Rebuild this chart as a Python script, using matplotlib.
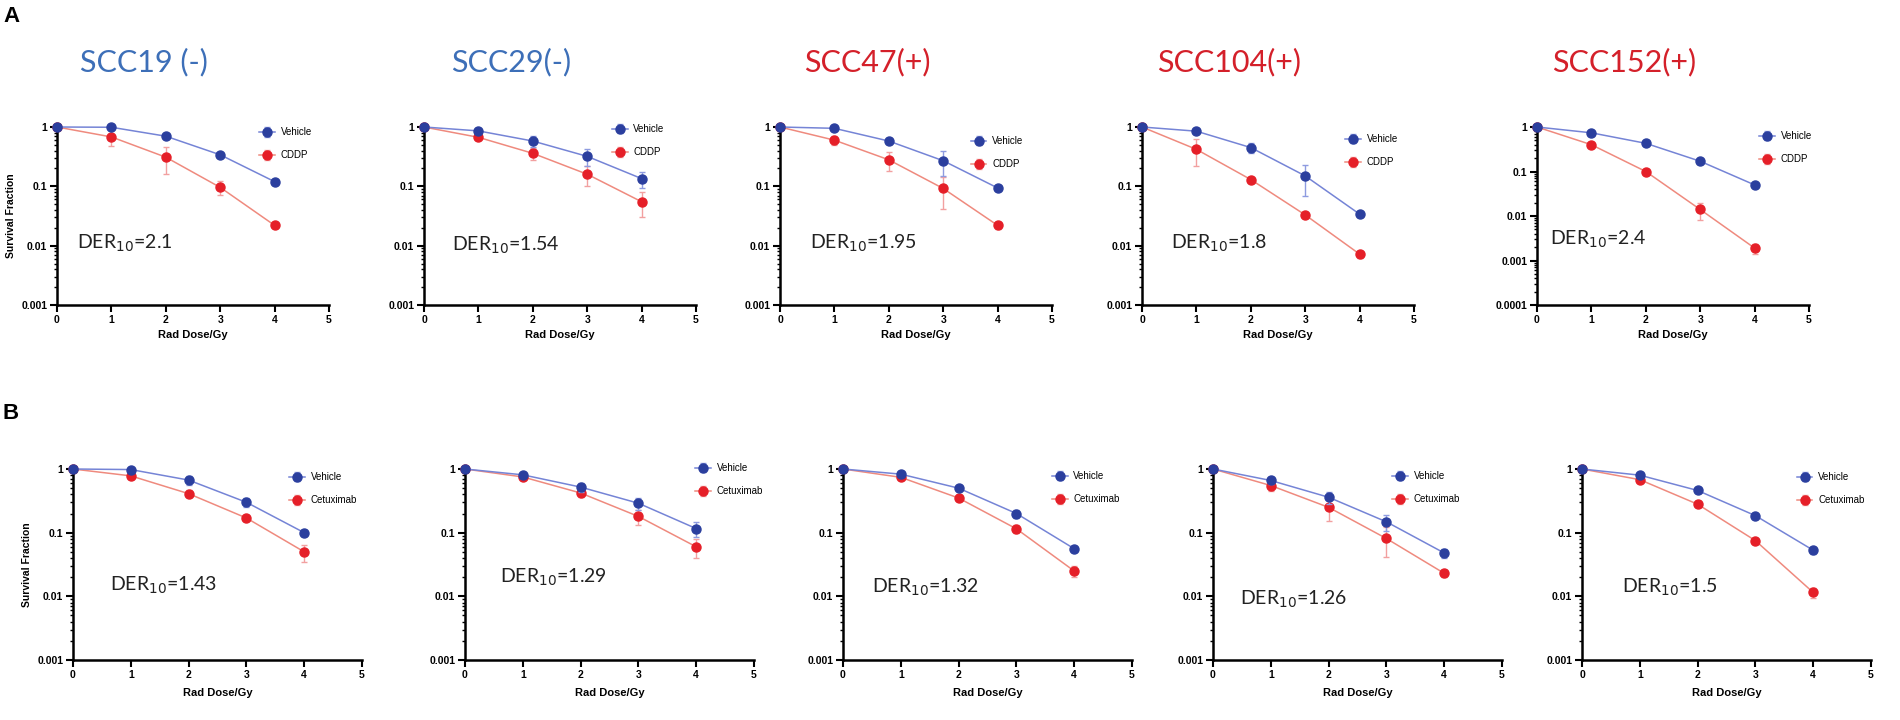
import math
import matplotlib
matplotlib.use("Agg")
import matplotlib.pyplot as plt
from matplotlib.ticker import LogLocator, NullFormatter

# ---- data (survival fraction vs radiation dose) ----
dose = [0, 1, 2, 3, 4]

lines_a = ["SCC19 (-)", "SCC29(-)", "SCC47(+)", "SCC104(+)", "SCC152(+)"]
hpv_neg = [True, True, False, False, False]

veh_a = [
    [1, 0.99, 0.70, 0.34, 0.12],
    [1, 0.86, 0.58, 0.32, 0.135],
    [1, 0.95, 0.58, 0.27, 0.094],
    [1, 0.85, 0.45, 0.15, 0.034],
    [1, 0.74, 0.43, 0.17, 0.05],
]
veh_a_err = [
    [0, 0.05, 0.06, 0.03, 0.008],
    [0, 0.10, 0.12, 0.10, 0.04],
    [0, 0.05, 0.06, 0.12, 0.008],
    [0, 0.05, 0.08, 0.08, 0.003],
    [0, 0.05, 0.03, 0.02, 0.004],
]
cddp = [
    [1, 0.68, 0.31, 0.096, 0.022],
    [1, 0.67, 0.36, 0.16, 0.055],
    [1, 0.60, 0.28, 0.092, 0.022],
    [1, 0.42, 0.13, 0.033, 0.0072],
    [1, 0.40, 0.10, 0.014, 0.0019],
]
cddp_err = [
    [0, 0.2, 0.15, 0.025, 0.002],
    [0, 0.06, 0.08, 0.06, 0.025],
    [0, 0.1, 0.1, 0.05, 0.003],
    [0, 0.2, 0.01, 0.004, 0.001],
    [0, 0.05, 0.01, 0.006, 0.0005],
]
der_a = ["2.1", "1.54", "1.95", "1.8", "2.4"]

veh_b = [
    [1, 0.98, 0.67, 0.30, 0.10],
    [1, 0.81, 0.52, 0.29, 0.116],
    [1, 0.83, 0.50, 0.20, 0.056],
    [1, 0.66, 0.36, 0.148, 0.048],
    [1, 0.80, 0.46, 0.185, 0.053],
]
veh_b_err = [
    [0, 0.05, 0.1, 0.05, 0.01],
    [0, 0.05, 0.08, 0.06, 0.03],
    [0, 0.05, 0.05, 0.03, 0.006],
    [0, 0.08, 0.08, 0.04, 0.008],
    [0, 0.05, 0.04, 0.02, 0.006],
]
cetux = [
    [1, 0.78, 0.41, 0.17, 0.05],
    [1, 0.75, 0.42, 0.18, 0.06],
    [1, 0.74, 0.35, 0.115, 0.025],
    [1, 0.55, 0.25, 0.081, 0.023],
    [1, 0.68, 0.28, 0.075, 0.0115],
]
cetux_err = [
    [0, 0.08, 0.05, 0.02, 0.015],
    [0, 0.05, 0.06, 0.05, 0.02],
    [0, 0.05, 0.04, 0.015, 0.005],
    [0, 0.1, 0.1, 0.04, 0.003],
    [0, 0.05, 0.03, 0.008, 0.002],
]
der_b = ["1.43", "1.29", "1.32", "1.26", "1.5"]

# ---- layout (pixels on the 1900x720 canvas) ----
W, H = 1900, 720
row_a_x0 = [57, 424, 780, 1142, 1537]
row_b_x0 = [73, 465, 843, 1213, 1582]
row_a_w, row_b_w = 272, 289
row_a_top, row_a_bot = 127, 305
row_b_top, row_b_bot = 469, 660

# legend marker centre (axes fraction) and DER text position (data)
leg_a = [(0.772, 0.966), (0.72, 0.983), (0.73, 0.916), (0.776, 0.927), (0.846, 0.944)]
leg_b = [(0.775, 0.953), (0.824, 1.0), (0.75, 0.958), (0.647, 0.958), (0.77, 0.953)]
der_pos_a = [(0.37, 0.011), (0.52, 0.01), (0.56, 0.011), (0.53, 0.011), (0.24, 0.003)]
der_pos_b = [(0.64, 0.015), (0.6, 0.02), (0.5, 0.014), (0.47, 0.009), (0.69, 0.014)]

blue_mk, blue_ln, blue_err = "#2b3f9e", "#7584d6", "#8e9be0"
red_mk, red_ln, red_err = "#e51f28", "#ef8a7e", "#f2a0a0"
title_blue, title_red = "#3d6fb8", "#d4202a"

tick_font = ["Liberation Sans", "DejaVu Sans"]
text_font = ["Lato", "DejaVu Sans"]

fig = plt.figure(figsize=(W / 100, H / 100), dpi=100)


def make_axes(x0, w, top, bot):
    return fig.add_axes([x0 / W, 1 - bot / H, w / W, (bot - top) / H])


def tick_text(v):
    if v >= 1:
        return "1"
    return f"{v:.{-int(round(math.log10(v)))}f}"


def style_axes(ax, ymin, first, xpad):
    ax.set_yscale("log")
    ax.set_xlim(0, 5)
    ax.set_ylim(ymin, 1)
    ax.spines["top"].set_visible(False)
    ax.spines["right"].set_visible(False)
    for s in ("left", "bottom"):
        ax.spines[s].set_linewidth(1.8)
    ax.set_xticks(range(6))
    ax.set_xticklabels([str(i) for i in range(6)], fontfamily=tick_font,
                       fontweight="bold", fontsize=7.5)
    yt = [10.0 ** k for k in range(int(round(math.log10(ymin))), 1)]
    ax.set_yticks(yt)
    ax.set_yticklabels([tick_text(v) for v in yt], fontfamily=tick_font,
                       fontweight="bold", fontsize=7.5)
    ax.yaxis.set_minor_locator(LogLocator(base=10, subs=range(2, 10)))
    ax.yaxis.set_minor_formatter(NullFormatter())
    ax.tick_params(which="major", length=5, width=1.5, pad=2)
    ax.tick_params(which="minor", length=2.5, width=1.0)
    ax.set_xlabel("Rad Dose/Gy", fontfamily=tick_font, fontweight="bold",
                  fontsize=8, labelpad=xpad)
    if first:
        ax.set_ylabel("Survival Fraction", fontfamily=tick_font,
                      fontweight="bold", fontsize=7.5, labelpad=4)
    ax.patch.set_alpha(0)


def draw_panel(ax, v, verr, t, terr, tlabel, der, der_xy, leg_xy):
    ax.errorbar(dose, v, yerr=verr, color=blue_ln, lw=1.1, marker="o", ms=6.5,
                mfc=blue_mk, mec=blue_mk, ecolor=blue_err, elinewidth=1.0,
                capsize=2.5, label="Vehicle", zorder=3, clip_on=False)
    ax.errorbar(dose, t, yerr=terr, color=red_ln, lw=1.1, marker="o", ms=6.5,
                mfc=red_mk, mec=red_mk, ecolor=red_err, elinewidth=1.0,
                capsize=2.5, label=tlabel, zorder=2, clip_on=False)
    ax.text(der_xy[0], der_xy[1], "DER$_{10}$=" + der, fontfamily=text_font,
            fontsize=14, color="#222222", va="center", ha="left")
    bb = ax.get_position()
    hl = 1.6
    half = (hl * 7 / 72 * 100 / 2) / (bb.width * W)
    top_off = 6 / (bb.height * H)
    ax.legend(loc="upper left", bbox_to_anchor=(leg_xy[0] - half, leg_xy[1] + top_off),
              frameon=False, handlelength=hl, handletextpad=0.6,
              borderpad=0, borderaxespad=0, labelspacing=1.35,
              prop={"family": tick_font, "size": 7})


for i in range(5):
    ax = make_axes(row_a_x0[i], row_a_w, row_a_top, row_a_bot)
    ymin = 1e-4 if i == 4 else 1e-3
    style_axes(ax, ymin, i == 0, 4)
    draw_panel(ax, veh_a[i], veh_a_err[i], cddp[i], cddp_err[i], "CDDP",
               der_a[i], der_pos_a[i], leg_a[i])
    fig.text((row_a_x0[i] + 0.32 * row_a_w) / W, 1 - 62 / H, lines_a[i],
             ha="center", va="center", fontfamily=text_font, fontsize=22,
             color=title_blue if hpv_neg[i] else title_red)

for i in range(5):
    ax = make_axes(row_b_x0[i], row_b_w, row_b_top, row_b_bot)
    style_axes(ax, 1e-3, i == 0, 6)
    draw_panel(ax, veh_b[i], veh_b_err[i], cetux[i], cetux_err[i], "Cetuximab",
               der_b[i], der_pos_b[i], leg_b[i])

fig.text(3 / W, 1 - 16 / H, "A", fontfamily=tick_font, fontweight="bold",
         fontsize=16, va="center", ha="left")
fig.text(3 / W, 1 - 414 / H, "B", fontfamily=tick_font, fontweight="bold",
         fontsize=16, va="center", ha="left")

fig.savefig("out.png", dpi=100, facecolor="white")
